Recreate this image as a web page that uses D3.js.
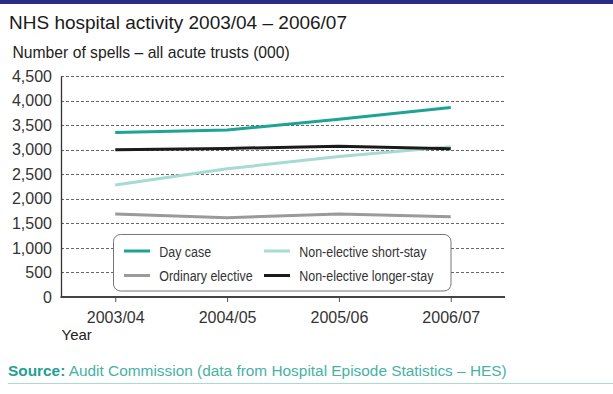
<!DOCTYPE html>
<html>
<head>
<meta charset="utf-8">
<script src="https://cdn.jsdelivr.net/npm/d3@7"></script>
<style>
body { margin: 0; background: #fff; }
svg { display: block; font-family: "Liberation Sans", Arial, sans-serif; }
</style>
</head>
<body>
<svg id="chart"></svg>
<script>
var years = ["2003/04", "2004/05", "2005/06", "2006/07"];
var dayCase = [3350, 3400, 3620, 3860];
var ordinaryElective = [1690, 1615, 1690, 1635];
var shortStay = [2280, 2610, 2860, 3060];
var longerStay = [3000, 3025, 3070, 3020];
var yTicks = [0, 500, 1000, 1500, 2000, 2500, 3000, 3500, 4000, 4500];

var series = [
    {name: "Day case", values: dayCase, color: "#1fa392"},
    {name: "Non-elective short-stay", values: shortStay, color: "#a7dad1"},
    {name: "Ordinary elective", values: ordinaryElective, color: "#9a9a9a"},
    {name: "Non-elective longer-stay", values: longerStay, color: "#1b1b1b"}
];

var w = 613, h = 394;
var svg = d3.select("#chart").attr("width", w).attr("height", h);

svg.append("rect").attr("x", 0).attr("y", 0).attr("width", w).attr("height", 4).attr("fill", "#2b2c88");

svg.append("text").attr("x", 9).attr("y", 28.5)
    .attr("font-size", 19).attr("fill", "#1a1a1a")
    .text("NHS hospital activity 2003/04 \u2013 2006/07");

svg.append("text").attr("x", 12.5).attr("y", 58)
    .attr("font-size", 15.7).attr("fill", "#222")
    .text("Number of spells \u2013 all acute trusts (000)");

var x = d3.scalePoint().domain(years).range([61, 505]).padding(0.485);
var y = d3.scaleLinear().domain([0, 4500]).range([297, 76]);

// dashed grid
svg.append("g").selectAll("line")
    .data(yTicks.slice(1))
    .enter().append("line")
    .attr("x1", 61).attr("x2", 505)
    .attr("y1", function (d) { return Math.round(y(d)) + 0.5; })
    .attr("y2", function (d) { return Math.round(y(d)) + 0.5; })
    .attr("stroke", "#555").attr("stroke-width", 0.9)
    .attr("stroke-dasharray", "3,2");

var yAxis = svg.append("g")
    .attr("transform", "translate(61,0)")
    .call(d3.axisLeft(y).tickValues(yTicks).tickSize(0).tickFormat(d3.format(",")));
yAxis.select(".domain").attr("stroke", "#333").attr("stroke-width", 1.3);
yAxis.selectAll("text").attr("font-size", 16).attr("fill", "#333")
    .attr("font-family", "Liberation Sans, Arial, sans-serif").attr("x", -9);

var xAxis = svg.append("g")
    .attr("transform", "translate(0,297)")
    .call(d3.axisBottom(x).tickSize(5).tickSizeOuter(0));
xAxis.select(".domain").remove();
xAxis.selectAll(".tick line").attr("stroke", "#555");
xAxis.selectAll("text").attr("font-size", 16).attr("fill", "#333")
    .attr("font-family", "Liberation Sans, Arial, sans-serif")
    .attr("y", 26).attr("dy", 0);
svg.append("line").attr("x1", 60.5).attr("x2", 505).attr("y1", 297).attr("y2", 297)
    .attr("stroke", "#444").attr("stroke-width", 2);

svg.append("text").attr("x", 61.5).attr("y", 340)
    .attr("font-size", 15).attr("fill", "#222").text("Year");

var line = d3.line()
    .x(function (d, i) { return x(years[i]); })
    .y(function (d) { return y(d); });

// draw order: elective, short-stay, longer-stay, day case
[2, 1, 3, 0].forEach(function (k) {
    svg.append("path")
        .attr("d", line(series[k].values))
        .attr("fill", "none")
        .attr("stroke", series[k].color)
        .attr("stroke-width", 3);
});

// legend
var lg = svg.append("g");
lg.append("rect").attr("x", 113.5).attr("y", 234.5).attr("width", 337.5).attr("height", 56.5)
    .attr("rx", 7).attr("fill", "#fff").attr("stroke", "#777").attr("stroke-width", 1);
var items = lg.selectAll("g.item").data(series).enter().append("g")
    .attr("transform", function (d, i) {
        return "translate(" + (i % 2 ? 264 : 124) + "," + (i < 2 ? 251 : 275.5) + ")";
    });
items.append("line").attr("x1", 0).attr("x2", 26)
    .attr("stroke", function (d) { return d.color; }).attr("stroke-width", 3);
items.append("text")
    .attr("transform", "translate(35.3,0) scale(0.83,1)")
    .attr("dy", "0.38em").attr("font-size", 15)
    .attr("fill", "#333").text(function (d) { return d.name; });

// source
var src = svg.append("text").attr("x", 8).attr("y", 376).attr("font-size", 15.4).attr("fill", "#46b2a4");
src.append("tspan").attr("font-weight", "bold").attr("fill", "#23a091").text("Source:");
src.append("tspan").text(" Audit Commission (data from Hospital Episode Statistics \u2013 HES)");
svg.append("line").attr("x1", 8).attr("x2", 613).attr("y1", 383.5).attr("y2", 383.5)
    .attr("stroke", "#a8dcd3").attr("stroke-width", 1);
</script>
</body>
</html>
